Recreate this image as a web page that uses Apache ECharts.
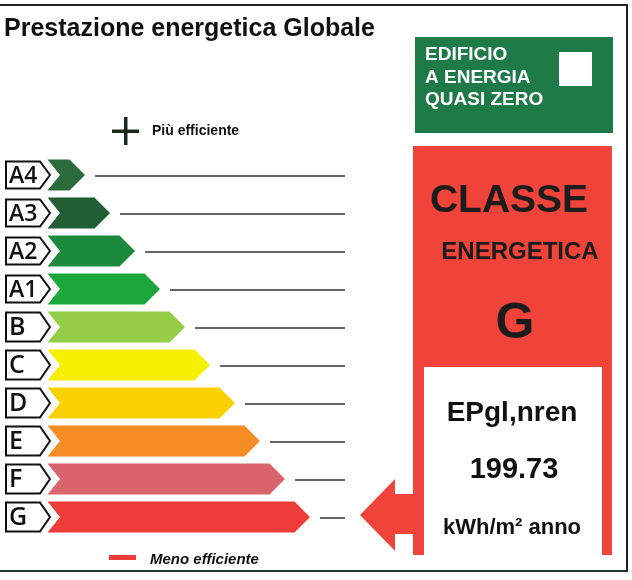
<!DOCTYPE html>
<html>
<head>
<meta charset="utf-8">
<script src="https://cdn.jsdelivr.net/npm/echarts@6.0.0/dist/echarts.min.js"></script>
<style>
  html, body { margin: 0; padding: 0; background: #fff; }
  #chart { width: 632px; height: 580px; }
</style>
</head>
<body>
<div id="chart"></div>
<script>
// classi energetiche, dalla più efficiente alla meno efficiente
const classes = ['A4', 'A3', 'A2', 'A1', 'B', 'C', 'D', 'E', 'F', 'G'];
// lunghezza delle frecce (in passi)
const barSteps = [1, 2, 3, 4, 5, 6, 7, 8, 9, 10];
const barColors = ['#2b6a3b', '#215e33', '#1c8a3d', '#1ca73a', '#95cd47',
                   '#f6ef00', '#fbd000', '#f68c25', '#d9646e', '#ee3d38'];
const lineEnd = 11.4;

// risultato dell'edificio
const currentClass = 'G';
const epLabel = 'EPgl,nren';
const epValue = '199.73';
const epUnit = 'kWh/m² anno';

const FONT = 'Liberation Sans, Arial, sans-serif';
const RED = '#f0443a';

const chart = echarts.init(document.getElementById('chart'));

function renderClassRow(params, api) {
    const cat = api.value(1);
    const k = api.value(0);
    const tip = api.coord([k, cat]);
    const left = api.coord([-0.5, cat])[0];
    const notch = api.coord([0, cat])[0];
    const yc = tip[1];
    const h = 15.5;
    const lineStart = api.coord([k + 0.4, cat])[0];
    const lineStop = api.coord([lineEnd, cat])[0];
    const bx = left - 41.5;
    const bh = cat < 4 ? 13.5 : 14.5;
    return {
        type: 'group',
        children: [
            {
                type: 'polygon',
                shape: { points: [[left, yc - h], [tip[0] - h, yc - h], [tip[0], yc],
                                  [tip[0] - h, yc + h], [left, yc + h], [notch, yc]] },
                style: { fill: barColors[params.dataIndex] }
            },
            {
                type: 'polygon',
                shape: { points: [[bx, yc - bh], [bx + 34, yc - bh], [bx + 44, yc],
                                  [bx + 34, yc + bh], [bx, yc + bh]] },
                style: { fill: '#fff', stroke: '#111', lineWidth: 2 }
            },
            {
                type: 'text',
                style: { text: classes[cat], x: bx + 3, y: yc + 1, align: 'left', verticalAlign: 'middle',
                         font: '600 ' + (cat < 4 ? 23 : 25) + 'px "Open Sans", sans-serif', fill: '#111' }
            },
            {
                type: 'line',
                shape: { x1: lineStart, y1: yc + 1, x2: lineStop, y2: yc + 1 },
                style: { stroke: '#333', lineWidth: 1.5 }
            }
        ]
    };
}

function renderArrow(params, api) {
    const yc = api.coord([0, api.value(1)])[1] - 2;
    return {
        type: 'polygon',
        shape: { points: [[360, yc], [395, yc - 36], [395, yc - 21], [414, yc - 21],
                          [414, yc + 19], [395, yc + 19], [395, yc + 36]] },
        style: { fill: RED }
    };
}

function txt(text, x, y, size, opts) {
    return {
        type: 'text',
        style: Object.assign({ text: text, x: x, y: y, fill: '#1c1c1c',
            font: 'bold ' + size + 'px ' + FONT, align: 'center', verticalAlign: 'middle' }, opts || {})
    };
}

const option = {
    animation: false,
    grid: { left: 60, width: 300, top: 156, height: 380 },
    xAxis: { type: 'value', min: 0, max: 12, show: false },
    yAxis: { type: 'category', data: classes, inverse: true, show: false },
    series: [
        {
            type: 'custom',
            renderItem: renderClassRow,
            data: barSteps.map((v, i) => [v, i])
        },
        {
            type: 'custom',
            renderItem: renderArrow,
            data: [[0, classes.indexOf(currentClass)]]
        }
    ],
    graphic: [
        // cornice
        { type: 'line', shape: { x1: 0, y1: 5, x2: 628, y2: 5 }, style: { stroke: '#222', lineWidth: 2 } },
        { type: 'line', shape: { x1: 627, y1: 5, x2: 627, y2: 572 }, style: { stroke: '#222', lineWidth: 2 } },
        { type: 'line', shape: { x1: 0, y1: 571, x2: 628, y2: 571 }, style: { stroke: '#1e3b2c', lineWidth: 2 } },
        txt('Prestazione energetica Globale', 4, 29, 25, { align: 'left', fill: '#111' }),

        // più / meno efficiente
        { type: 'rect', shape: { x: 112, y: 129.5, width: 27, height: 3.5 }, style: { fill: '#1a2a1a' } },
        { type: 'rect', shape: { x: 124, y: 117, width: 3.5, height: 28 }, style: { fill: '#1a2a1a' } },
        txt('Più efficiente', 152, 131, 14, { align: 'left', fill: '#111' }),
        { type: 'rect', shape: { x: 109, y: 555, width: 27, height: 5 }, style: { fill: '#ee3d38' } },
        txt('Meno efficiente', 150, 560, 15, { align: 'left', fill: '#111', font: 'italic bold 15px ' + FONT }),

        // edificio a energia quasi zero
        { type: 'rect', shape: { x: 415, y: 37, width: 198, height: 96 }, style: { fill: '#1f7a4a' } },
        { type: 'rect', shape: { x: 559, y: 52, width: 33, height: 34 }, style: { fill: '#fff' } },
        txt('EDIFICIO', 425, 55, 19, { align: 'left', fill: '#fff' }),
        txt('A ENERGIA', 425, 78, 19, { align: 'left', fill: '#fff' }),
        txt('QUASI ZERO', 425, 100, 19, { align: 'left', fill: '#fff' }),

        // classe energetica
        { type: 'rect', shape: { x: 413, y: 146, width: 199, height: 409 }, style: { fill: RED } },
        { type: 'rect', shape: { x: 424, y: 367, width: 178, height: 188 }, style: { fill: '#fff' } },
        txt('CLASSE', 509, 201, 39),
        txt('ENERGETICA', 520, 252, 24),
        txt(currentClass, 515, 324, 50),
        txt(epLabel, 512, 413, 28, { fill: '#111' }),
        txt(epValue, 514, 470, 29, { fill: '#111' }),
        txt(epUnit, 512, 528, 22, { fill: '#111' })
    ]
};

chart.setOption(option);
</script>
</body>
</html>
